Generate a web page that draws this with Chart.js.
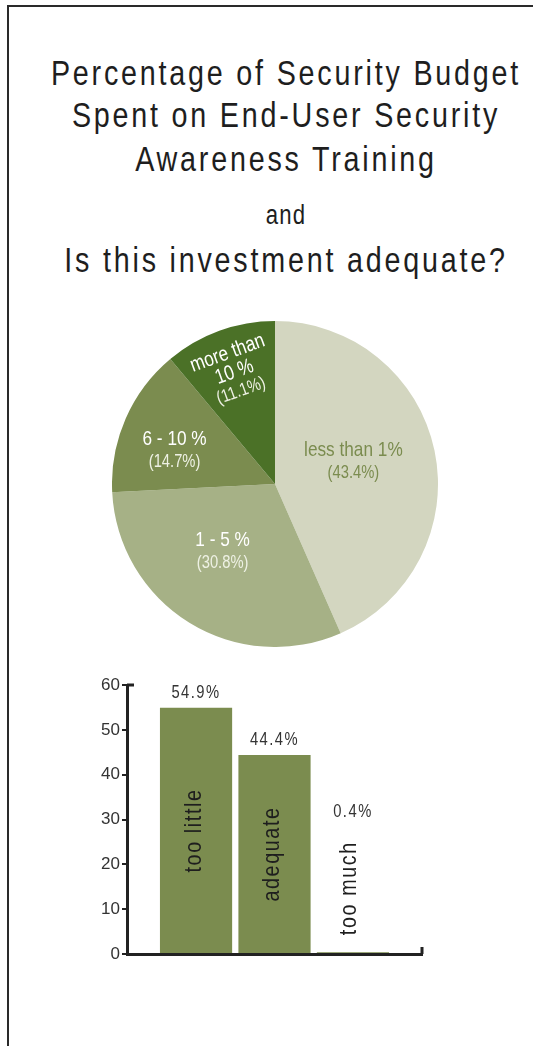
<!DOCTYPE html>
<html>
<head>
<meta charset="utf-8">
<script src="https://cdn.jsdelivr.net/npm/chart.js@4.4.1/dist/chart.umd.min.js"></script>
<style>
  html, body { margin: 0; padding: 0; background: #fff; }
  body { width: 533px; height: 1046px; position: relative; overflow: hidden;
         font-family: "Liberation Sans", Arial, sans-serif; color: #1e1e1e; }
  .frame { position: absolute; left: 7px; top: 5px; right: 0; bottom: 0;
           border-top: 2px solid #2a2a2a; border-left: 2px solid #2a2a2a; }
  .t { position: absolute; left: -200px; width: 972px; text-align: center; white-space: nowrap;
       transform: scaleX(0.82); transform-origin: 50% 0; }
  .big { font-size: 35px; line-height: 35px; letter-spacing: 3.4px; }
  .small { font-size: 27px; line-height: 27px; letter-spacing: 1.5px; }
  canvas { position: absolute; }
</style>
</head>
<body>
<div class="frame"></div>
<div class="t big" style="top:55px">Percentage of Security Budget</div>
<div class="t big" style="top:97px">Spent on End-User Security</div>
<div class="t big" style="top:141px">Awareness Training</div>
<div class="t small" style="top:202px">and</div>
<div class="t big" style="top:242px">Is this investment adequate?</div>

<canvas id="pie" width="326" height="326" style="left:112px;top:321px"></canvas>
<canvas id="bar" width="400" height="320" style="left:60px;top:660px"></canvas>

<script>
// pie: share of security budget spent on awareness training
const budgetLabels = ["less than 1%", "1 - 5 %", "6 - 10 %", "more than\n10 %"];
const budgetValues = [43.4, 30.8, 14.7, 11.1];

// bar: is this investment adequate?
const adequacyLabels = ["too little", "adequate", "too much"];
const adequacyValues = [54.9, 44.4, 0.4];
const yTicks = [0, 10, 20, 30, 40, 50, 60];

const FONT = "'Liberation Sans', Arial, sans-serif";
const NARROW = 0.82;
const pieColors = ["#d3d6c0", "#a6b186", "#7b8c4f", "#4b7127"];
const pieText = ["#7b8c4f", "#ffffff", "#ffffff", "#ffffff"];
const piePctText = ["#7b8c4f", "#eef1e4", "#eef1e4", "#eef1e4"];
const labelRadius = [0.5, 0.526, 0.65, 0.73];
const labelShift = [-4, 6, -5, 0];
const labelRotate = [false, false, false, true];

function narrowText(ctx, text, x, y) {
  ctx.save();
  ctx.translate(x, y);
  ctx.scale(NARROW, 1);
  ctx.fillText(text, 0, 0);
  ctx.restore();
}

const pieLabelPlugin = {
  id: "pieLabels",
  afterDatasetsDraw(chart) {
    const ctx = chart.ctx;
    const meta = chart.getDatasetMeta(0);
    meta.data.forEach((arc, i) => {
      const mid = (arc.startAngle + arc.endAngle) / 2;
      const ang = mid + labelShift[i] * Math.PI / 180;
      const r = arc.outerRadius * labelRadius[i];
      const x = arc.x + Math.cos(ang) * r;
      const y = arc.y + Math.sin(ang) * r;
      const lines = budgetLabels[i].split("\n");
      lines.push("(" + budgetValues[i].toFixed(1) + "%)");
      const step = lines.length > 2 ? 20 : 23;
      ctx.save();
      ctx.translate(x, y);
      if (labelRotate[i]) ctx.rotate(mid + Math.PI / 2);
      ctx.textAlign = "center";
      ctx.textBaseline = "middle";
      lines.forEach((line, k) => {
        const isPct = k === lines.length - 1;
        ctx.font = (isPct ? "18px " : "21px ") + FONT;
        ctx.fillStyle = isPct ? piePctText[i] : pieText[i];
        narrowText(ctx, line, 0, (k - (lines.length - 1) / 2) * step);
      });
      ctx.restore();
    });
  }
};

new Chart(document.getElementById("pie"), {
  type: "pie",
  data: {
    labels: budgetLabels,
    datasets: [{ data: budgetValues, backgroundColor: pieColors, borderWidth: 0 }]
  },
  options: {
    responsive: false,
    animation: false,
    layout: { padding: 0 },
    plugins: { legend: { display: false }, tooltip: { enabled: false } }
  },
  plugins: [pieLabelPlugin]
});

const barLabelPlugin = {
  id: "barLabels",
  afterDatasetsDraw(chart) {
    const ctx = chart.ctx;
    const meta = chart.getDatasetMeta(0);
    meta.data.forEach((bar, i) => {
      ctx.save();
      ctx.fillStyle = "#1e1e1e";
      ctx.font = "24px " + FONT;
      ctx.letterSpacing = "2px";
      const tw = ctx.measureText(adequacyLabels[i]).width * NARROW;
      const h = bar.base - bar.y;
      let valueY;
      ctx.textAlign = "center";
      ctx.textBaseline = "middle";
      ctx.save();
      if (h > tw + 30) {
        ctx.translate(bar.x - 2, (bar.y + bar.base) / 2);
        valueY = bar.y - 10;
      } else {
        const start = bar.y - 17;
        ctx.translate(bar.x - 4, start - tw / 2);
        valueY = start - tw - 24;
      }
      ctx.rotate(-Math.PI / 2);
      narrowText(ctx, adequacyLabels[i], 0, 0);
      ctx.restore();
      ctx.font = "18px " + FONT;
      ctx.letterSpacing = "1.8px";
      ctx.fillStyle = "#333";
      ctx.textBaseline = "alphabetic";
      narrowText(ctx, adequacyValues[i].toFixed(1) + "%", bar.x, valueY);
      ctx.restore();
    });
  },
  afterDraw(chart) {
    const ctx = chart.ctx;
    const a = chart.chartArea;
    ctx.save();
    ctx.strokeStyle = "#222";
    ctx.lineWidth = 3;
    ctx.beginPath();
    ctx.moveTo(a.left, a.top);
    ctx.lineTo(a.left + 7, a.top);
    ctx.moveTo(a.right, a.bottom);
    ctx.lineTo(a.right, a.bottom - 7);
    ctx.stroke();
    ctx.restore();
  }
};

new Chart(document.getElementById("bar"), {
  type: "bar",
  data: {
    datasets: [{
      data: adequacyValues.map((v, i) => ({ x: i, y: v })),
      backgroundColor: "#7b8c4f",
      categoryPercentage: 1,
      barPercentage: 0.92
    }]
  },
  options: {
    responsive: false,
    animation: false,
    layout: { padding: { top: 25, right: 38, left: 0, bottom: 0 } },
    plugins: { legend: { display: false }, tooltip: { enabled: false } },
    scales: {
      x: {
        type: "linear",
        offset: false,
        min: -0.88,
        max: 2.88,
        afterBuildTicks(scale) { scale.ticks = adequacyLabels.map((_, i) => ({ value: i })); },
        ticks: { display: false },
        grid: { display: false },
        border: { display: true, color: "#222", width: 3 },
        afterFit(scale) { scale.height = 26; }
      },
      y: {
        min: 0,
        max: 60,
        afterBuildTicks(scale) { scale.ticks = yTicks.map(v => ({ value: v })); },
        ticks: { color: "#333", font: { family: FONT, size: 17 }, padding: 2 },
        grid: { drawOnChartArea: false, drawTicks: true, tickLength: 5, color: "#222", lineWidth: 2 },
        border: { display: true, color: "#222", width: 3 },
        afterFit(scale) { scale.width = 67; }
      }
    }
  },
  plugins: [barLabelPlugin]
});
</script>
</body>
</html>
